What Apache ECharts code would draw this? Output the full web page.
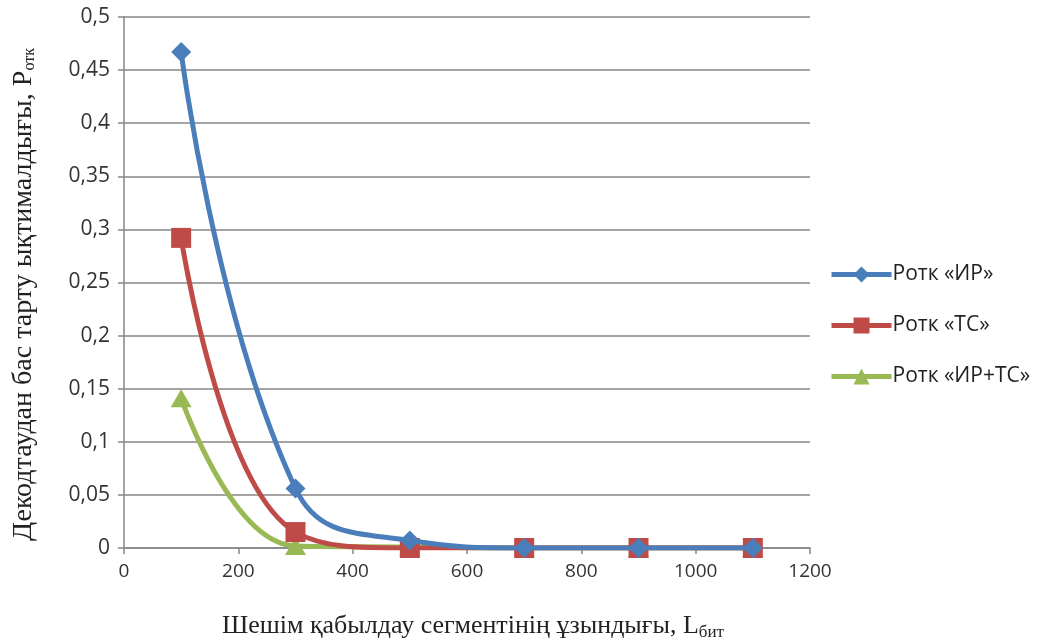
<!DOCTYPE html>
<html>
<head>
<meta charset="utf-8">
<script src="https://cdn.jsdelivr.net/npm/echarts@6/dist/echarts.min.js"></script>
<style>
  html, body { margin: 0; padding: 0; background: #fff; }
  #chart { width: 1049px; height: 643px; }
</style>
</head>
<body>
<div id="chart"></div>
<script>
// шешім қабылдау сегментінің ұзындығы
const lengths = [100, 300, 500, 700, 900, 1100];
const seriesNames = ['Ротк «ИР»', 'Ротк «ТС»', 'Ротк «ИР+ТС»'];
const pIR = [0.467, 0.056, 0.007, 0, 0, 0];
const pTC = [0.292, 0.015, 0, 0, 0, 0];
const pIRTC = [0.141, 0.002, 0.001, 0, 0, 0];

const colors = ['#4a7ebb', '#be4b48', '#98b954'];
const symbols = ['diamond', 'rect', 'triangle'];
const symbolSizes = [[20, 20], [20, 20], [21, 18]];

const myChart = echarts.init(document.getElementById('chart'));

const makeSeries = (name, values, i) => ({
  name: name,
  type: 'line',
  smooth: 0.45,
  clip: true,
  data: lengths.map((x, k) => [x, values[k]]),
  symbol: symbols[i],
  symbolSize: symbolSizes[i],
  showAllSymbol: true,
  lineStyle: { color: colors[i], width: 5 },
  itemStyle: { color: colors[i] },
  z: 10 - i,
});

const option = {
  animation: false,
  color: colors,
  grid: { left: 124, right: 239, top: 17, bottom: 95, outerBoundsMode: 'none', containLabel: false },
  legend: {
    orient: 'vertical',
    left: 824,
    top: 259,
    itemWidth: 60,
    itemHeight: 20,
    itemGap: 30,
    selectedMode: false,
    lineStyle: { width: 5 },
    textStyle: { fontFamily: 'Open Sans', fontSize: 21, color: '#222', padding: [0, 0, 0, -4] },
    data: seriesNames,
  },
  xAxis: {
    type: 'value',
    min: 0,
    max: 1200,
    interval: 200,
    name: '{n|Шешім қабылдау сегментінің ұзындығы, L}{s|бит}',
    nameLocation: 'middle',
    nameGap: 64,
    nameTextStyle: {
      padding: [0, 0, 0, 12],
      rich: {
        n: { fontFamily: 'Liberation Serif', fontSize: 26, color: '#222' },
        s: { fontFamily: 'Liberation Serif', fontSize: 17, color: '#222', verticalAlign: 'bottom', padding: [12, 0, 0, 0] },
      },
    },
    axisLine: { show: true, lineStyle: { color: '#868686', width: 1.5 } },
    axisTick: { show: true, inside: false, length: 6, lineStyle: { color: '#868686', width: 1.5 } },
    axisLabel: { fontFamily: 'Open Sans', fontSize: 19, color: '#333', margin: 14, formatter: v => String(v) },
    splitLine: { show: false },
  },
  yAxis: {
    type: 'value',
    min: 0,
    max: 0.5,
    interval: 0.05,
    name: '{n|Декодтаудан бас тарту ықтималдығы, P}{s|отк}',
    nameLocation: 'middle',
    nameGap: 86,
    nameTextStyle: {
      padding: [0, 24, 0, 0],
      rich: {
        n: { fontFamily: 'Liberation Serif', fontSize: 28, color: '#222' },
        s: { fontFamily: 'Liberation Serif', fontSize: 16, color: '#222', verticalAlign: 'bottom', padding: [12, 0, 0, 0] },
      },
    },
    axisLine: { show: true, lineStyle: { color: '#868686', width: 1.5 } },
    axisTick: { show: true, inside: false, length: 6, lineStyle: { color: '#868686', width: 1.5 } },
    axisLabel: {
      fontFamily: 'Open Sans',
      fontSize: 21,
      color: '#333',
      margin: 14,
      formatter: v => String(+v.toFixed(2)).replace('.', ','),
    },
    splitLine: { show: true, lineStyle: { color: '#868686', width: 1.5 } },
  },
  series: [
    makeSeries(seriesNames[0], pIR, 0),
    makeSeries(seriesNames[1], pTC, 1),
    makeSeries(seriesNames[2], pIRTC, 2),
  ],
};

myChart.setOption(option);
</script>
</body>
</html>
